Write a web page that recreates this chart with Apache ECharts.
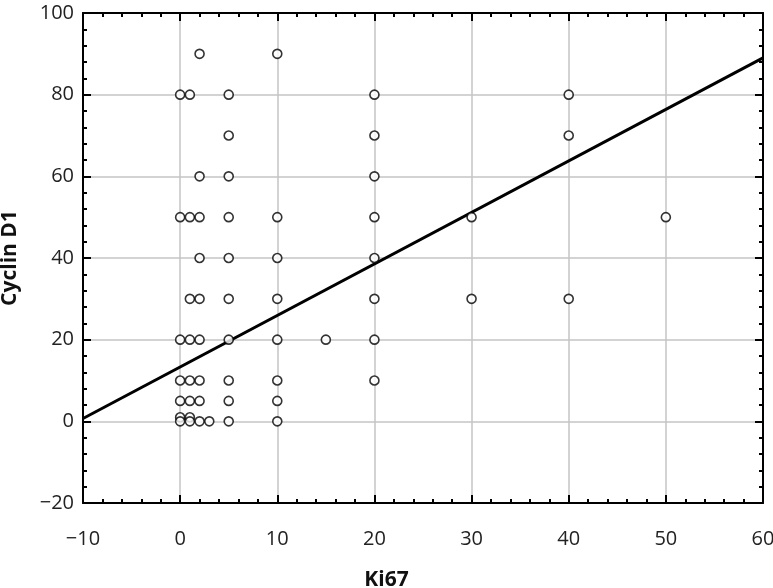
<!DOCTYPE html>
<html>
<head>
<meta charset="utf-8">
<script src="https://cdn.jsdelivr.net/npm/echarts@6/dist/echarts.min.js"></script>
<style>
    html, body { margin: 0; padding: 0; background: #fff; }
    #chart { width: 773px; height: 588px; }
</style>
</head>
<body>
<div id="chart"></div>
<script>
    // Ki67 vs Cyclin D1
    var ki67 = [2, 10, 0, 1, 5, 20, 40, 5, 20, 40, 2, 5, 20,
                0, 1, 2, 5, 10, 20, 30, 50,
                2, 5, 10, 20,
                1, 2, 5, 10, 20, 30, 40,
                0, 1, 2, 5, 10, 15, 20,
                0, 1, 2, 5, 10, 20,
                0, 1, 2, 5, 10,
                0, 1, 0, 1, 2, 3, 5, 10];
    var cyclinD1 = [90, 90, 80, 80, 80, 80, 80, 70, 70, 70, 60, 60, 60,
                    50, 50, 50, 50, 50, 50, 50, 50,
                    40, 40, 40, 40,
                    30, 30, 30, 30, 30, 30, 30,
                    20, 20, 20, 20, 20, 20, 20,
                    10, 10, 10, 10, 10, 10,
                    5, 5, 5, 5, 5,
                    1, 1, 0, 0, 0, 0, 0, 0];
    // regression line ends
    var fitX = [-10, 60];
    var fitY = [0.7, 89.0];

    var xTicks = { min: -10, max: 60, interval: 10 };
    var yTicks = { min: -20, max: 100, interval: 20 };

    var labelFont = 'Open Sans';
    function minus(v) { return String(v).replace('-', '\u2212'); }

    var points = ki67.map(function (x, i) { return [x, cyclinD1[i]]; });
    var fit = fitX.map(function (x, i) { return [x, fitY[i]]; });

    function axisBase(t) {
        return {
            type: 'value',
            min: t.min,
            max: t.max,
            interval: t.interval,
            axisLine: { show: true, onZero: false, lineStyle: { color: '#000', width: 2 } },
            axisTick: { show: true, inside: true, length: 8, lineStyle: { color: '#000', width: 2 } },
            minorTick: { show: true, splitNumber: 5, length: 4, lineStyle: { color: '#000', width: 2 } },
        }
    }

    var chart = echarts.init(document.getElementById('chart'));
    var option = {
        animation: false,
        title: {
            text: 'Ki67',
            left: 'center',
            top: 565,
            textStyle: { fontFamily: labelFont, fontWeight: 'bold', fontSize: 21, color: '#111' }
        },
        grid: { left: 83, right: 10, top: 13, bottom: 85, containLabel: false, outerBoundsMode: 'none' },
        xAxis: [
            Object.assign(axisBase(xTicks), {
                position: 'bottom',
                splitLine: { show: true, lineStyle: { color: '#c4c4c4', width: 1.5 } },
                axisLabel: { margin: 26, fontFamily: labelFont, fontSize: 20, color: '#222', formatter: minus }
            }),
            Object.assign(axisBase(xTicks), {
                position: 'top',
                splitLine: { show: false },
                axisLabel: { show: false }
            })
        ],
        yAxis: [
            Object.assign(axisBase(yTicks), {
                position: 'left',
                name: 'Cyclin D1',
                nameLocation: 'middle',
                nameGap: 62,
                nameTextStyle: { fontFamily: labelFont, fontWeight: 'bold', fontSize: 21, color: '#111' },
                splitLine: { show: true, lineStyle: { color: '#c4c4c4', width: 1.5 } },
                axisLabel: { margin: 9, fontFamily: labelFont, fontSize: 20, color: '#222', formatter: minus }
            }),
            Object.assign(axisBase(yTicks), {
                position: 'right',
                splitLine: { show: false },
                axisLabel: { show: false }
            })
        ],
        series: [
            {
                type: 'line',
                data: fit,
                symbol: 'none',
                lineStyle: { color: '#000', width: 3 },
                z: 3
            },
            {
                type: 'scatter',
                data: points,
                symbol: 'circle',
                symbolSize: 9,
                itemStyle: { color: '#fff', borderColor: '#000', borderWidth: 1.6 },
                z: 4
            }
        ]
    };
    chart.setOption(option);
</script>
</body>
</html>
